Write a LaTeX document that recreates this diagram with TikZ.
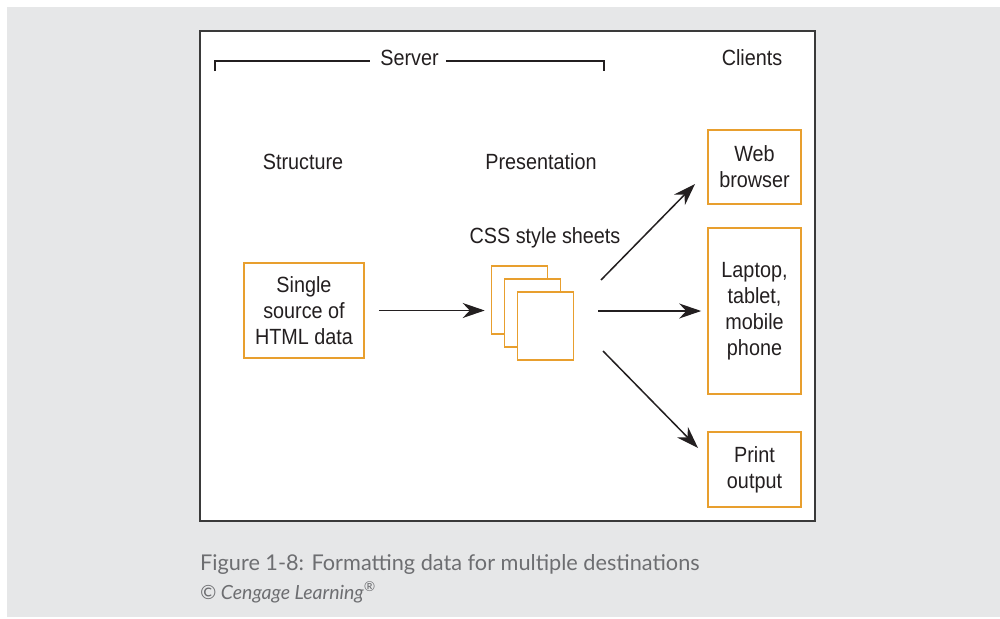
\documentclass[tikz,border=0pt]{standalone}
\usepackage{fontspec}
\setmainfont{Liberation Sans}[FakeStretch=0.9]
\newfontfamily\capfont{Lato}
\usetikzlibrary{arrows.meta,positioning,calc}
\definecolor{bg}{HTML}{E6E7E8}
\definecolor{org}{HTML}{E89F2E}
\definecolor{frm}{HTML}{3A3A3A}
\definecolor{ink}{HTML}{231F20}
\definecolor{capc}{HTML}{6D6E71}
\tikzset{
  box/.style={draw=org,line width=1.6pt,fill=white,align=center,inner sep=0pt,text=ink},
  sheet/.style={box,minimum width=56pt,minimum height=68pt},
  client/.style={box,minimum width=93pt},
  lbl/.style={text=ink,inner sep=0pt},
  ar/.style={-{Stealth[length=22pt,width=15pt,inset=7pt]},line width=1.5pt,draw=ink},
  brk/.style={line width=1.8pt,draw=ink},
}
\begin{document}
\begin{tikzpicture}[x=1pt,y=-1pt,font=\fontsize{22}{26}\selectfont]
\useasboundingbox (0,0) rectangle (1000,618);
\fill[bg] (7,7) rectangle (1000,617);
\draw[frm,line width=1.5pt,fill=white] (200,31) rectangle (815,521);
% headings
\node[lbl] (srv) at (409.5,58) {Server};
\node[lbl] (cli) at (752,58) {Clients};
\node[lbl] (struct) at (303,162) {Structure};
\node[lbl] (pres) at (541,162) {Presentation};
\coordinate (bl) at (215,71);
\coordinate (br) at (604,71);
\draw[brk] (bl) |- ($(srv.west)+(-10,3)$);
\draw[brk] ($(srv.east)+(7,3)$) -| (br);
% source and style sheets
\node[box,minimum width=120pt,minimum height=95pt] (src) at (304,310.5) {Single\\source of\\HTML data};
\node[lbl] (css) at (545,238) {CSS style sheets};
\node[sheet] (sh1) at (519.5,300) {};
\node[sheet] (sh2) at ($(sh1)+(13,13)$) {};
\node[sheet] (sh3) at ($(sh2)+(13,13)$) {};
% clients
\node[client,minimum height=74pt] (web) at (754.5,167) {Web\\browser};
\node[client,minimum height=166pt] (lap) at (754.5,311) {Laptop,\\tablet,\\mobile\\phone};
\node[client,minimum height=75pt] (prt) at (754.5,469.5) {Print\\output};
% connectors
\coordinate (f1) at (601,280);
\coordinate (f2) at (598,311);
\coordinate (f3) at (603,351);
\coordinate (t1) at (695,184);
\coordinate (t3) at (698,448);
\draw[ar,shorten <=14pt,shorten >=6pt] (src.east) -- (src.east -| sh1.west);
\draw[ar] (f1) -- (t1);
\draw[ar,shorten >=6pt] (f2) -- (f2 -| lap.west);
\draw[ar] (f3) -- (t3);
% caption
\node[anchor=base west,inner sep=0pt,text=capc,font=\capfont\fontsize{21.7}{24}\selectfont] (cap) at (200,570) {Figure 1-8: Formatting data for multiple destinations};
\node[anchor=base west,inner sep=0pt,text=capc,font=\capfont\itshape\fontsize{19.5}{22}\selectfont] (copy) at (200,599) {© Cengage Learning\textsuperscript{®}};
\end{tikzpicture}
\end{document}
